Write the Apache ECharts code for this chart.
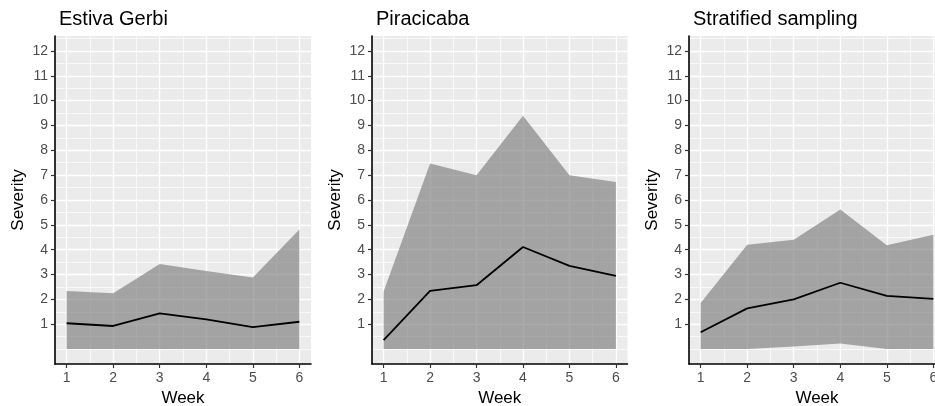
<!DOCTYPE html>
<html>
<head>
<meta charset="utf-8">
<script src="https://cdn.jsdelivr.net/npm/echarts@6/dist/echarts.min.js"></script>
<style>
  html, body { margin: 0; padding: 0; background: #fff; }
  #chart { width: 935px; height: 406px; }
</style>
</head>
<body>
<div id="chart"></div>
<script>
// data
const weeks = [1, 2, 3, 4, 5, 6];
const yTicks = [1, 2, 3, 4, 5, 6, 7, 8, 9, 10, 11, 12];
const yMinor = [0, 0.5, 1.5, 2.5, 3.5, 4.5, 5.5, 6.5, 7.5, 8.5, 9.5, 10.5, 11.5, 12.5];
const xMinor = [1.5, 2.5, 3.5, 4.5, 5.5];

const titles = ['Estiva Gerbi', 'Piracicaba', 'Stratified sampling'];

const estivaMean  = [1.04, 0.93, 1.44, 1.20, 0.88, 1.10];
const estivaLower = [0, 0, 0, 0, 0, 0];
const estivaUpper = [2.34, 2.25, 3.42, 3.14, 2.88, 4.81];

const piraMean  = [0.36, 2.34, 2.57, 4.11, 3.35, 2.95];
const piraLower = [0, 0, 0, 0, 0, 0];
const piraUpper = [2.32, 7.47, 7.00, 9.39, 7.00, 6.72];

const stratMean  = [0.68, 1.64, 2.00, 2.67, 2.14, 2.02];
const stratLower = [0, 0, 0.10, 0.23, 0, 0];
const stratUpper = [1.85, 4.20, 4.40, 5.62, 4.18, 4.60];

const panels = [
  { mean: estivaMean, lower: estivaLower, upper: estivaUpper, left: 55, width: 256 },
  { mean: piraMean, lower: piraLower, upper: piraUpper, left: 372, width: 255.5 },
  { mean: stratMean, lower: stratLower, upper: stratUpper, left: 689, width: 256 }
];

const FONT = "'Liberation Sans', Arial, sans-serif";
const plotTop = 36, plotHeight = 328;

const option = {
  animation: false,
  title: [], grid: [], xAxis: [], yAxis: [], series: []
};

panels.forEach(function (p, i) {
  option.title.push({
    text: titles[i], left: p.left - 1, top: 4,
    textStyle: { fontFamily: FONT, fontSize: 20, fontWeight: 'normal', color: '#000' }
  });
  option.grid.push({
    left: p.left, top: plotTop, width: p.width, height: plotHeight,
    outerBoundsMode: 'none', containLabel: false,
    show: true, backgroundColor: '#EBEBEB', borderWidth: 0
  });
  // main axes
  option.xAxis.push({
    type: 'value', gridIndex: i, min: 0.75, max: 6.25,
    name: 'Week', nameLocation: 'middle', nameGap: 26,
    nameTextStyle: { fontFamily: FONT, fontSize: 17, color: '#000' },
    axisLine: { show: true, onZero: false, lineStyle: { color: '#000', width: 1.6 } },
    axisTick: { show: true, customValues: weeks, length: 4, lineStyle: { color: '#333', width: 1.2 } },
    axisLabel: { customValues: weeks, margin: 7, fontFamily: FONT, fontSize: 14, color: '#4D4D4D' },
    splitLine: { show: true, lineStyle: { color: '#fff', width: 1.4 } }
  });
  option.yAxis.push({
    type: 'value', gridIndex: i, min: -0.6, max: 12.6,
    name: 'Severity', nameLocation: 'middle', nameGap: 28, nameRotate: 90,
    nameTextStyle: { fontFamily: FONT, fontSize: 17, color: '#000' },
    axisLine: { show: true, onZero: false, lineStyle: { color: '#000', width: 1.6 } },
    axisTick: { show: true, customValues: yTicks, length: 4, lineStyle: { color: '#333', width: 1.2 } },
    axisLabel: { customValues: yTicks, margin: 7, fontFamily: FONT, fontSize: 14, color: '#4D4D4D' },
    splitLine: { show: true, lineStyle: { color: '#fff', width: 1.4 } }
  });
  // minor grid axes
  option.xAxis.push({
    type: 'value', gridIndex: i, min: 0.75, max: 6.25, position: 'top',
    axisLine: { show: false }, axisLabel: { show: false },
    axisTick: { show: false, customValues: xMinor },
    splitLine: { show: true, lineStyle: { color: '#fff', width: 0.7 } }
  });
  option.yAxis.push({
    type: 'value', gridIndex: i, min: -0.6, max: 12.6, position: 'right',
    axisLine: { show: false }, axisLabel: { show: false },
    axisTick: { show: false, customValues: yMinor },
    splitLine: { show: true, lineStyle: { color: '#fff', width: 0.7 } }
  });

  const xi = i * 2, yi = i * 2;
  // ribbon between lower and upper, drawn once as a polygon
  option.series.push({
    type: 'custom', xAxisIndex: xi, yAxisIndex: yi,
    data: weeks.map(function (w, k) { return [w, p.lower[k], p.upper[k]]; }),
    encode: { x: 0, y: [1, 2] },
    renderItem: function (params, api) {
      if (params.dataIndex !== 0) return;
      const pts = [];
      weeks.forEach(function (w, k) { pts.push(api.coord([w, p.upper[k]])); });
      for (let k = weeks.length - 1; k >= 0; k--) pts.push(api.coord([weeks[k], p.lower[k]]));
      return {
        type: 'polygon',
        shape: { points: pts },
        style: { fill: 'rgba(124,124,124,0.65)' }
      };
    },
    z: 2
  });
  option.series.push({
    type: 'line', xAxisIndex: xi, yAxisIndex: yi,
    symbol: 'none', lineStyle: { color: '#000', width: 1.8 },
    data: weeks.map(function (w, k) { return [w, p.mean[k]]; }),
    z: 5
  });
});

const chart = echarts.init(document.getElementById('chart'));
chart.setOption(option);
</script>
</body>
</html>
